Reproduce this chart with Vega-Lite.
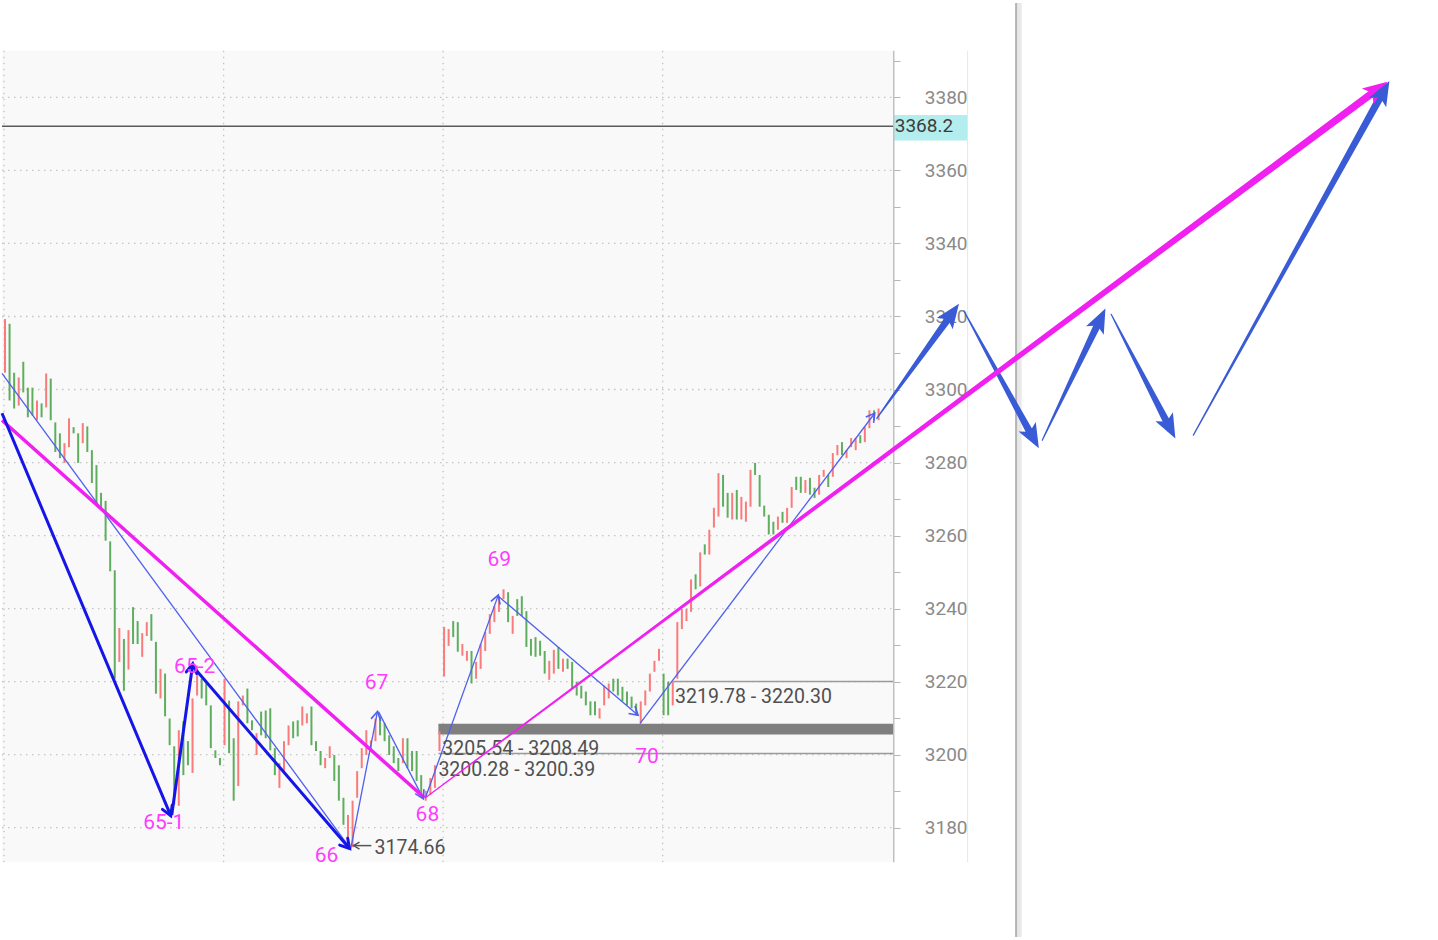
{
"$schema": "https://vega.github.io/schema/vega-lite/v6.json",
"width": 1438,
"height": 940,
"autosize": {"type": "fit", "contains": "padding"},
"padding": 0,
"background": "#ffffff",
"config": {"view": {"stroke": null}, "font": "Roboto"},
"encoding": {
  "x": {"field": "k", "type": "quantitative", "scale": {"domain": [-0.655, 313.32], "nice": false, "zero": false}, "axis": null},
  "y": {"field": "p", "type": "quantitative", "scale": {"domain": [3150.07, 3405.85], "nice": false, "zero": false},
    "axis": {"orient": "right", "offset": -545, "title": null, "domain": false, "grid": false,
      "values": [3180,3190,3200,3210,3220,3230,3240,3250,3260,3270,3280,3290,3300,3310,3320,3330,3340,3350,3360,3370,3380,3390],
      "format": "d", "labelExpr": "datum.value % 20 === 0 ? datum.label : ''",
      "tickSize": 7, "tickColor": "#b5b5b5", "tickWidth": 1,
      "labelAlign": "right", "labelBaseline": "middle", "labelPadding": 67,
      "labelFont": "Roboto", "labelFontSize": 19, "labelColor": "#8a8a8a", "labelFlush": false, "labelOverlap": false}}
},
"datasets": {
  "candles": [
    {"k":0,"p":3319.3,"p2":3304.6,"d":"u"},{"k":1,"p":3318.0,"p2":3297.0,"d":"d"},{"k":2,"p":3304.6,"p2":3294.8,"d":"d"},{"k":3,"p":3303.3,"p2":3295.6,"d":"u"},
    {"k":4,"p":3307.6,"p2":3299.2,"d":"d"},{"k":5,"p":3300.5,"p2":3292.4,"d":"d"},{"k":6,"p":3300.5,"p2":3292.9,"d":"d"},{"k":7,"p":3297.0,"p2":3291.6,"d":"u"},
    {"k":8,"p":3296.2,"p2":3292.4,"d":"d"},{"k":9,"p":3304.4,"p2":3295.1,"d":"u"},{"k":10,"p":3303.0,"p2":3291.6,"d":"d"},{"k":11,"p":3291.0,"p2":3282.9,"d":"d"},
    {"k":12,"p":3288.0,"p2":3281.2,"d":"d"},{"k":13,"p":3285.3,"p2":3279.9,"d":"u"},{"k":14,"p":3292.1,"p2":3284.2,"d":"u"},{"k":15,"p":3289.7,"p2":3288.0,"d":"d"},
    {"k":16,"p":3288.0,"p2":3279.9,"d":"d"},{"k":17,"p":3290.8,"p2":3285.3,"d":"u"},{"k":18,"p":3289.9,"p2":3282.9,"d":"d"},{"k":19,"p":3283.4,"p2":3274.4,"d":"d"},
    {"k":20,"p":3279.3,"p2":3269.0,"d":"d"},{"k":21,"p":3271.7,"p2":3267.1,"d":"d"},{"k":22,"p":3269.5,"p2":3258.6,"d":"d"},{"k":23,"p":3258.4,"p2":3250.2,"d":"d"},
    {"k":24,"p":3250.5,"p2":3220.8,"d":"d"},{"k":25,"p":3234.7,"p2":3225.4,"d":"u"},{"k":26,"p":3231.7,"p2":3217.5,"d":"d"},{"k":27,"p":3234.1,"p2":3223.3,"d":"u"},
    {"k":28,"p":3240.4,"p2":3230.3,"d":"d"},{"k":29,"p":3236.6,"p2":3230.3,"d":"d"},{"k":30,"p":3233.3,"p2":3226.8,"d":"u"},{"k":31,"p":3236.3,"p2":3232.5,"d":"u"},
    {"k":32,"p":3238.5,"p2":3231.2,"d":"d"},{"k":33,"p":3230.9,"p2":3216.7,"d":"d"},{"k":34,"p":3223.5,"p2":3215.4,"d":"u"},{"k":35,"p":3222.2,"p2":3210.5,"d":"d"},
    {"k":36,"p":3209.9,"p2":3202.6,"d":"d"},{"k":37,"p":3202.3,"p2":3186.3,"d":"d"},{"k":38,"p":3206.7,"p2":3186.0,"d":"u"},{"k":39,"p":3209.1,"p2":3194.4,"d":"d"},
    {"k":40,"p":3203.7,"p2":3197.1,"d":"d"},{"k":41,"p":3215.4,"p2":3195.0,"d":"u"},{"k":42,"p":3224.4,"p2":3216.2,"d":"u"},{"k":43,"p":3220.8,"p2":3215.4,"d":"d"},
    {"k":44,"p":3219.5,"p2":3213.5,"d":"d"},{"k":45,"p":3213.5,"p2":3201.8,"d":"d"},{"k":46,"p":3201.2,"p2":3199.1,"d":"d"},{"k":47,"p":3199.1,"p2":3197.1,"d":"d"},
    {"k":48,"p":3220.8,"p2":3202.6,"d":"u"},{"k":49,"p":3214.8,"p2":3200.4,"d":"d"},{"k":50,"p":3204.5,"p2":3187.4,"d":"d"},{"k":51,"p":3214.6,"p2":3191.4,"d":"u"},
    {"k":52,"p":3216.2,"p2":3213.5,"d":"u"},{"k":53,"p":3218.1,"p2":3208.6,"d":"d"},{"k":54,"p":3209.4,"p2":3206.7,"d":"d"},{"k":55,"p":3205.9,"p2":3199.9,"d":"u"},
    {"k":56,"p":3211.8,"p2":3205.3,"d":"d"},{"k":57,"p":3212.1,"p2":3204.5,"d":"d"},{"k":58,"p":3212.7,"p2":3201.2,"d":"d"},{"k":59,"p":3201.8,"p2":3194.4,"d":"d"},
    {"k":60,"p":3197.7,"p2":3190.9,"d":"u"},{"k":61,"p":3203.7,"p2":3195.5,"d":"u"},{"k":62,"p":3208.0,"p2":3202.6,"d":"u"},{"k":63,"p":3209.1,"p2":3204.5,"d":"d"},
    {"k":64,"p":3209.4,"p2":3205.0,"d":"d"},{"k":65,"p":3213.2,"p2":3208.0,"d":"u"},{"k":66,"p":3211.3,"p2":3208.6,"d":"u"},{"k":67,"p":3213.2,"p2":3202.6,"d":"d"},
    {"k":68,"p":3203.7,"p2":3201.0,"d":"d"},{"k":69,"p":3201.0,"p2":3197.1,"d":"d"},{"k":70,"p":3199.1,"p2":3196.3,"d":"u"},{"k":71,"p":3202.3,"p2":3199.1,"d":"u"},
    {"k":72,"p":3199.9,"p2":3192.8,"d":"d"},{"k":73,"p":3197.1,"p2":3187.4,"d":"d"},{"k":74,"p":3188.2,"p2":3180.8,"d":"d"},{"k":75,"p":3183.5,"p2":3175.4,"d":"u"},
    {"k":76,"p":3187.4,"p2":3174.66,"d":"u"},{"k":77,"p":3195.5,"p2":3188.2,"d":"u"},{"k":78,"p":3201.8,"p2":3196.3,"d":"u"},{"k":79,"p":3206.7,"p2":3199.9,"d":"u"},
    {"k":80,"p":3203.9,"p2":3201.0,"d":"u"},{"k":81,"p":3209.9,"p2":3203.7,"d":"u"},{"k":82,"p":3210.5,"p2":3205.3,"d":"d"},{"k":83,"p":3208.6,"p2":3203.7,"d":"d"},
    {"k":84,"p":3205.3,"p2":3199.9,"d":"d"},{"k":85,"p":3202.3,"p2":3197.7,"d":"d"},{"k":86,"p":3199.1,"p2":3195.5,"d":"d"},{"k":87,"p":3204.5,"p2":3197.7,"d":"u"},
    {"k":88,"p":3204.5,"p2":3196.3,"d":"d"},{"k":89,"p":3201.0,"p2":3195.5,"d":"d"},{"k":90,"p":3201.0,"p2":3192.8,"d":"d"},{"k":91,"p":3194.4,"p2":3189.0,"d":"d"},
    {"k":92,"p":3190.1,"p2":3187.4,"d":"u"},{"k":93,"p":3193.6,"p2":3189.0,"d":"u"},{"k":94,"p":3197.1,"p2":3190.9,"d":"u"},{"k":95,"p":3206.4,"p2":3201.0,"d":"u"},
    {"k":96,"p":3235.0,"p2":3221.4,"d":"u"},{"k":97,"p":3234.4,"p2":3229.8,"d":"u"},{"k":98,"p":3236.6,"p2":3232.2,"d":"d"},{"k":99,"p":3236.3,"p2":3228.2,"d":"d"},
    {"k":100,"p":3230.3,"p2":3227.1,"d":"u"},{"k":101,"p":3228.4,"p2":3225.7,"d":"u"},{"k":102,"p":3228.4,"p2":3219.5,"d":"d"},{"k":103,"p":3225.4,"p2":3220.8,"d":"u"},
    {"k":104,"p":3230.3,"p2":3223.5,"d":"u"},{"k":105,"p":3233.6,"p2":3228.4,"d":"u"},{"k":106,"p":3238.5,"p2":3233.1,"d":"u"},{"k":107,"p":3240.7,"p2":3236.3,"d":"u"},
    {"k":108,"p":3243.4,"p2":3239.1,"d":"u"},{"k":109,"p":3245.3,"p2":3242.6,"d":"u"},{"k":110,"p":3244.5,"p2":3236.3,"d":"d"},{"k":111,"p":3238.0,"p2":3233.1,"d":"u"},
    {"k":112,"p":3242.6,"p2":3238.0,"d":"d"},{"k":113,"p":3243.4,"p2":3238.0,"d":"d"},{"k":114,"p":3239.3,"p2":3229.5,"d":"d"},{"k":115,"p":3231.7,"p2":3227.1,"d":"d"},
    {"k":116,"p":3232.2,"p2":3226.8,"d":"d"},{"k":117,"p":3231.2,"p2":3227.1,"d":"d"},{"k":118,"p":3228.4,"p2":3222.2,"d":"d"},{"k":119,"p":3225.7,"p2":3220.5,"d":"u"},
    {"k":120,"p":3228.7,"p2":3222.2,"d":"u"},{"k":121,"p":3229.5,"p2":3223.5,"d":"d"},{"k":122,"p":3226.3,"p2":3222.7,"d":"u"},{"k":123,"p":3226.3,"p2":3223.5,"d":"d"},
    {"k":124,"p":3225.4,"p2":3218.1,"d":"d"},{"k":125,"p":3220.0,"p2":3216.2,"d":"d"},{"k":126,"p":3218.9,"p2":3215.4,"d":"d"},{"k":127,"p":3217.3,"p2":3213.5,"d":"d"},
    {"k":128,"p":3214.6,"p2":3210.8,"d":"d"},{"k":129,"p":3214.6,"p2":3210.8,"d":"d"},{"k":130,"p":3212.7,"p2":3209.9,"d":"u"},{"k":131,"p":3218.9,"p2":3213.5,"d":"u"},
    {"k":132,"p":3219.5,"p2":3215.4,"d":"u"},{"k":133,"p":3220.8,"p2":3217.3,"d":"d"},{"k":134,"p":3220.8,"p2":3216.2,"d":"d"},{"k":135,"p":3218.6,"p2":3214.6,"d":"d"},
    {"k":136,"p":3217.3,"p2":3213.5,"d":"d"},{"k":137,"p":3215.9,"p2":3212.7,"d":"d"},{"k":138,"p":3214.0,"p2":3210.8,"d":"d"},{"k":139,"p":3214.6,"p2":3208.5,"d":"u"},
    {"k":140,"p":3217.6,"p2":3213.5,"d":"u"},{"k":141,"p":3222.2,"p2":3217.3,"d":"u"},{"k":142,"p":3225.7,"p2":3222.7,"d":"u"},{"k":143,"p":3229.0,"p2":3225.7,"d":"u"},
    {"k":144,"p":3222.2,"p2":3210.8,"d":"d"},{"k":145,"p":3220.0,"p2":3210.8,"d":"d"},{"k":146,"p":3220.0,"p2":3213.5,"d":"u"},{"k":147,"p":3236.3,"p2":3220.8,"d":"u"},
    {"k":148,"p":3239.9,"p2":3234.4,"d":"u"},{"k":149,"p":3239.9,"p2":3236.6,"d":"u"},{"k":150,"p":3248.0,"p2":3239.1,"d":"u"},{"k":151,"p":3249.4,"p2":3245.3,"d":"d"},
    {"k":152,"p":3255.4,"p2":3246.1,"d":"u"},{"k":153,"p":3257.6,"p2":3254.8,"d":"d"},{"k":154,"p":3261.6,"p2":3254.8,"d":"u"},{"k":155,"p":3267.6,"p2":3262.2,"d":"u"},
    {"k":156,"p":3277.1,"p2":3265.2,"d":"u"},{"k":157,"p":3276.6,"p2":3267.9,"d":"d"},{"k":158,"p":3271.7,"p2":3264.9,"d":"d"},{"k":159,"p":3271.7,"p2":3264.4,"d":"u"},
    {"k":160,"p":3272.5,"p2":3264.4,"d":"d"},{"k":161,"p":3270.6,"p2":3264.4,"d":"u"},{"k":162,"p":3269.3,"p2":3263.8,"d":"u"},{"k":163,"p":3278.0,"p2":3267.9,"d":"u"},
    {"k":164,"p":3279.9,"p2":3276.6,"d":"d"},{"k":165,"p":3276.6,"p2":3267.9,"d":"d"},{"k":166,"p":3268.2,"p2":3265.2,"d":"d"},{"k":167,"p":3265.7,"p2":3260.3,"d":"d"},
    {"k":168,"p":3263.8,"p2":3260.3,"d":"d"},{"k":169,"p":3265.2,"p2":3261.6,"d":"u"},{"k":170,"p":3266.5,"p2":3263.5,"d":"d"},{"k":171,"p":3267.6,"p2":3263.5,"d":"u"},
    {"k":172,"p":3273.3,"p2":3267.6,"d":"u"},{"k":173,"p":3276.1,"p2":3272.5,"d":"d"},{"k":174,"p":3276.1,"p2":3271.7,"d":"d"},{"k":175,"p":3275.2,"p2":3271.7,"d":"u"},
    {"k":176,"p":3275.8,"p2":3271.2,"d":"d"},{"k":177,"p":3273.1,"p2":3270.3,"d":"d"},{"k":178,"p":3276.6,"p2":3271.2,"d":"u"},{"k":179,"p":3278.0,"p2":3276.1,"d":"u"},
    {"k":180,"p":3276.6,"p2":3273.3,"d":"d"},{"k":181,"p":3282.6,"p2":3276.1,"d":"u"},{"k":182,"p":3284.8,"p2":3282.0,"d":"u"},{"k":183,"p":3285.6,"p2":3282.0,"d":"d"},
    {"k":184,"p":3283.4,"p2":3281.2,"d":"u"},{"k":185,"p":3286.7,"p2":3284.2,"d":"u"},{"k":186,"p":3286.7,"p2":3283.4,"d":"u"},{"k":187,"p":3287.5,"p2":3285.3,"d":"d"},
    {"k":188,"p":3289.7,"p2":3285.6,"d":"u"},{"k":189,"p":3294.3,"p2":3289.4,"d":"u"},{"k":190,"p":3294.3,"p2":3291.6,"d":"d"},{"k":191,"p":3294.8,"p2":3291.6,"d":"u"}
  ],
  "frame": [
    {"part":"plot","k":-0.655,"k2":194.32,"p":3392.8,"p2":3170.47},
    {"part":"mask","k":-0.655,"k2":220.3,"p":3170.47,"p2":3150.07}
  ],
  "vlines": [
    {"part":"axis","k":194.32,"p":3392.8,"p2":3170.47},
    {"part":"edge","k":210.48,"p":3392.8,"p2":3170.47},
    {"part":"shadowLight","k":221.73,"p":3405.85,"p2":3150.07},
    {"part":"shadowDark","k":221.07,"p":3405.85,"p2":3150.07}
  ],
  "gridY": [
    {"p":3180,"k":-0.655,"k2":194.32},{"p":3200,"k":-0.655,"k2":194.32},{"p":3220,"k":-0.655,"k2":194.32},{"p":3240,"k":-0.655,"k2":194.32},
    {"p":3260,"k":-0.655,"k2":194.32},{"p":3280,"k":-0.655,"k2":194.32},{"p":3300,"k":-0.655,"k2":194.32},{"p":3320,"k":-0.655,"k2":194.32},
    {"p":3340,"k":-0.655,"k2":194.32},{"p":3360,"k":-0.655,"k2":194.32},{"p":3380,"k":-0.655,"k2":194.32}
  ],
  "gridX": [
    {"k":-0.2,"p":3392.8,"p2":3170.47},{"k":47.8,"p":3392.8,"p2":3170.47},{"k":95.8,"p":3392.8,"p2":3170.47},{"k":143.8,"p":3392.8,"p2":3170.47}
  ],
  "zones": [{"name":"3205.54 - 3208.49","k":94.76,"k2":194.32,"p":3208.49,"p2":3205.54}],
  "levels": [{"name":"3200.28 - 3200.39","p":3200.33,"k":94.76,"k2":194.32},{"name":"3219.78 - 3220.30","p":3220.04,"k":146.07,"k2":194.32}],
  "price": [{"p":3372.1,"k":-0.655,"k2":194.32,"label":"3368.2"}],
  "priceBox": [{"k":194.32,"k2":210.48,"p":3375.2,"p2":3368.2}],
  "segments": [
    {"kind":"thick","k":-0.655,"p":3293.5,"k2":36.24,"p2":3183.3},
    {"kind":"thick","k":36.46,"p":3183.5,"k2":41.05,"p2":3224.9},
    {"kind":"thick","k":41.2,"p":3224.0,"k2":75.33,"p2":3174.3},
    {"kind":"thin","k":-0.655,"p":3304.4,"k2":75.33,"p2":3174.6},
    {"kind":"thin","k":75.55,"p":3174.0,"k2":81.44,"p2":3211.8},
    {"kind":"thin","k":81.66,"p":3211.8,"k2":91.48,"p2":3187.9},
    {"kind":"thin","k":91.92,"p":3188.2,"k2":107.86,"p2":3243.7},
    {"kind":"thin","k":107.86,"p":3243.4,"k2":138.43,"p2":3210.8},
    {"kind":"thin","k":138.86,"p":3208.6,"k2":190.17,"p2":3293.5},
    {"kind":"magenta","k":-0.655,"p":3291.6,"k2":91.7,"p2":3188.2},
    {"kind":"pointer","k":76.2,"p":3175.1,"k2":80.1,"p2":3175.1}
  ],
  "tips": [
    {"kind":"thick","k":36.24,"p":3183.3,"dir":157.4},
    {"kind":"thick","k":41.05,"p":3224.9,"dir":7.9},
    {"kind":"thick","k":75.33,"p":3174.3,"dir":139.5},
    {"kind":"thin","k":81.44,"p":3211.8,"dir":11.0},
    {"kind":"thin","k":91.48,"p":3187.9,"dir":152.9},
    {"kind":"thin","k":107.86,"p":3243.7,"dir":19.7},
    {"kind":"thin","k":138.43,"p":3210.8,"dir":130.6},
    {"kind":"thin","k":190.17,"p":3293.5,"dir":37.0},
    {"kind":"pointer","k":76.2,"p":3175.1,"dir":270}
  ],
  "waveLabels": [
    {"k":34.72,"p":3181.4,"text":"65-1"},
    {"k":41.48,"p":3224.1,"text":"65-2"},
    {"k":70.31,"p":3172.2,"text":"66"},
    {"k":81.22,"p":3219.5,"text":"67"},
    {"k":92.36,"p":3183.5,"text":"68"},
    {"k":108.08,"p":3253.2,"text":"69"},
    {"k":140.39,"p":3199.3,"text":"70"}
  ],
  "zoneLabels": [
    {"k":95.63,"p":3201.5,"text":"3205.54 - 3208.49"},
    {"k":94.76,"p":3195.9,"text":"3200.28 - 3200.39"},
    {"k":146.51,"p":3215.7,"text":"3219.78 - 3220.30"},
    {"k":80.79,"p":3174.4,"text":"3174.66"}
  ],
  "shafts": [
    {"id":"a1","pos":0,"k":190.61,"p":3292.1},{"id":"a1","pos":1,"k":207.05,"p":3320.8},
    {"id":"a2","pos":0,"k":209.67,"p":3321.5},{"id":"a2","pos":1,"k":224.80,"p":3286.7},
    {"id":"a3","pos":0,"k":226.79,"p":3286.1},{"id":"a3","pos":1,"k":239.48,"p":3319.3},
    {"id":"a4","pos":0,"k":241.86,"p":3320.6},{"id":"a4","pos":1,"k":254.69,"p":3289.5},
    {"id":"a5","pos":0,"k":259.83,"p":3287.5},{"id":"a5","pos":1,"k":301.42,"p":3381.7},
    {"id":"m","pos":0,"k":91.92,"p":3188.2},{"id":"m","pos":1,"k":300.15,"p":3382.3}
  ],
  "heads": [
    {"id":"a1","k":208.58,"p":3323.5,"dir":35.5},
    {"id":"a2","k":226.05,"p":3283.9,"dir":151.5},
    {"id":"a3","k":240.61,"p":3322.2,"dir":25.5},
    {"id":"a4","k":255.90,"p":3286.6,"dir":152.8},
    {"id":"a5","k":302.69,"p":3384.5,"dir":28.8},
    {"id":"m","k":302.25,"p":3384.3,"dir":53.2}
  ]
},
"layer": [
  {"data": {"name": "frame"}, "transform": [{"filter": "datum.part === 'plot'"}], "mark": {"type": "rect", "fill": "#f9f9f9"},
   "encoding": {"x2": {"field": "k2"}, "y2": {"field": "p2"}}},
  {"data": {"name": "gridY"}, "mark": {"type": "rule", "stroke": "#c4c4c4", "strokeWidth": 1.3, "strokeDash": [1.5, 4.5]},
   "encoding": {"x2": {"field": "k2"}}},
  {"data": {"name": "gridX"}, "mark": {"type": "rule", "stroke": "#c4c4c4", "strokeWidth": 1.3, "strokeDash": [1.5, 4.5]},
   "encoding": {"y2": {"field": "p2"}}},
  {"data": {"name": "zones"}, "mark": {"type": "rect", "fill": "#7f7f7f"},
   "encoding": {"x2": {"field": "k2"}, "y2": {"field": "p2"}}},
  {"data": {"name": "levels"}, "mark": {"type": "rule", "stroke": "#9a9a9a", "strokeWidth": 1.5},
   "encoding": {"x2": {"field": "k2"}}},
  {"data": {"name": "candles"}, "mark": {"type": "rule", "strokeWidth": 2},
   "encoding": {"y2": {"field": "p2"},
     "color": {"field": "d", "type": "nominal", "scale": {"domain": ["u", "d"], "range": ["#fa7b7b", "#5fae5f"]}, "legend": null}}},
  {"data": {"name": "price"}, "mark": {"type": "rule", "stroke": "#5a5a5a", "strokeWidth": 1.5},
   "encoding": {"x2": {"field": "k2"}}},
  {"data": {"name": "priceBox"}, "mark": {"type": "rect", "fill": "#b3eded"},
   "encoding": {"x2": {"field": "k2"}, "y2": {"field": "p2"}}},
  {"data": {"name": "price"}, "mark": {"type": "text", "align": "left", "baseline": "middle", "fontSize": 19, "font": "Roboto", "color": "#3c3c3c", "dx": 1},
   "encoding": {"x": {"field": "k2", "type": "quantitative"}, "text": {"field": "label"}}},
  {"data": {"name": "vlines"}, "transform": [{"filter": "datum.part === 'axis'"}], "mark": {"type": "rule", "stroke": "#c0c0c0", "strokeWidth": 1.5},
   "encoding": {"y2": {"field": "p2"}}},
  {"data": {"name": "vlines"}, "transform": [{"filter": "datum.part === 'edge'"}], "mark": {"type": "rule", "stroke": "#e6e6e6", "strokeWidth": 1},
   "encoding": {"y2": {"field": "p2"}}},
  {"data": {"name": "segments"}, "transform": [{"filter": "datum.kind === 'thin'"}],
   "mark": {"type": "rule", "stroke": "#4f5ff0", "strokeWidth": 1.3},
   "encoding": {"x2": {"field": "k2"}, "y2": {"field": "p2"}}},
  {"data": {"name": "segments"}, "transform": [{"filter": "datum.kind === 'magenta'"}],
   "mark": {"type": "rule", "stroke": "#f020f0", "strokeWidth": 3.5},
   "encoding": {"x2": {"field": "k2"}, "y2": {"field": "p2"}}},
  {"data": {"name": "segments"}, "transform": [{"filter": "datum.kind === 'thick'"}],
   "mark": {"type": "rule", "stroke": "#1515e8", "strokeWidth": 3},
   "encoding": {"x2": {"field": "k2"}, "y2": {"field": "p2"}}},
  {"data": {"name": "segments"}, "transform": [{"filter": "datum.kind === 'pointer'"}],
   "mark": {"type": "rule", "stroke": "#555555", "strokeWidth": 1.5},
   "encoding": {"x2": {"field": "k2"}, "y2": {"field": "p2"}}},
  {"data": {"name": "tips"}, "transform": [{"filter": "datum.kind === 'thick'"}],
   "mark": {"type": "point", "shape": "M-0.7,1.2L0,0L0.7,1.2", "filled": false, "stroke": "#1515e8", "strokeWidth": 3, "size": 225, "opacity": 1, "strokeCap": "round"},
   "encoding": {"angle": {"field": "dir", "type": "quantitative", "scale": null}}},
  {"data": {"name": "tips"}, "transform": [{"filter": "datum.kind === 'thin'"}],
   "mark": {"type": "point", "shape": "M-0.7,1.2L0,0L0.7,1.2", "filled": false, "stroke": "#4f5ff0", "strokeWidth": 1.6, "size": 196, "opacity": 1},
   "encoding": {"angle": {"field": "dir", "type": "quantitative", "scale": null}}},
  {"data": {"name": "tips"}, "transform": [{"filter": "datum.kind === 'pointer'"}],
   "mark": {"type": "point", "shape": "M-0.7,1.2L0,0L0.7,1.2", "filled": false, "stroke": "#555555", "strokeWidth": 1.4, "size": 100, "opacity": 1},
   "encoding": {"angle": {"field": "dir", "type": "quantitative", "scale": null}}},
  {"data": {"name": "zoneLabels"}, "mark": {"type": "text", "align": "left", "baseline": "middle", "fontSize": 19.5, "font": "Roboto", "color": "#505050"},
   "encoding": {"text": {"field": "text"}}},
  {"data": {"name": "waveLabels"}, "mark": {"type": "text", "align": "center", "baseline": "middle", "fontSize": 21, "font": "Roboto", "color": "#ff3cff"},
   "encoding": {"text": {"field": "text"}}},
  {"data": {"name": "frame"}, "transform": [{"filter": "datum.part === 'mask'"}], "mark": {"type": "rect", "fill": "#ffffff"},
   "encoding": {"x2": {"field": "k2"}, "y2": {"field": "p2"}}},
  {"data": {"name": "vlines"}, "transform": [{"filter": "datum.part === 'shadowLight'"}], "mark": {"type": "rule", "stroke": "#e8e8e8", "strokeWidth": 5},
   "encoding": {"y2": {"field": "p2"}}},
  {"data": {"name": "vlines"}, "transform": [{"filter": "datum.part === 'shadowDark'"}], "mark": {"type": "rule", "stroke": "#b4b4b4", "strokeWidth": 2},
   "encoding": {"y2": {"field": "p2"}}},
  {"data": {"name": "shafts"}, "transform": [{"filter": "datum.id !== 'm'"}],
   "mark": {"type": "trail", "color": "#3a5bd6"},
   "encoding": {"size": {"field": "pos", "type": "quantitative", "scale": {"domain": [0, 1], "range": [1.2, 7.5]}, "legend": null}, "detail": {"field": "id"}}},
  {"data": {"name": "shafts"}, "transform": [{"filter": "datum.id === 'm'"}],
   "mark": {"type": "trail", "color": "#f020f0"},
   "encoding": {"size": {"field": "pos", "type": "quantitative", "scale": {"domain": [0, 1], "range": [1.2, 7.5]}, "legend": null}, "detail": {"field": "id"}}},
  {"data": {"name": "heads"}, "transform": [{"filter": "datum.id === 'm'"}],
   "mark": {"type": "point", "shape": "M0,0L0.8,2L0,1.55L-0.8,2Z", "filled": true, "color": "#f020f0", "strokeWidth": 0, "size": 600, "opacity": 1},
   "encoding": {"angle": {"field": "dir", "type": "quantitative", "scale": null}}},
  {"data": {"name": "heads"}, "transform": [{"filter": "datum.id !== 'm'"}],
   "mark": {"type": "point", "shape": "M0,0L0.8,2L0,1.55L-0.8,2Z", "filled": true, "color": "#3a5bd6", "strokeWidth": 0, "size": 600, "opacity": 1},
   "encoding": {"angle": {"field": "dir", "type": "quantitative", "scale": null}}}
]
}
